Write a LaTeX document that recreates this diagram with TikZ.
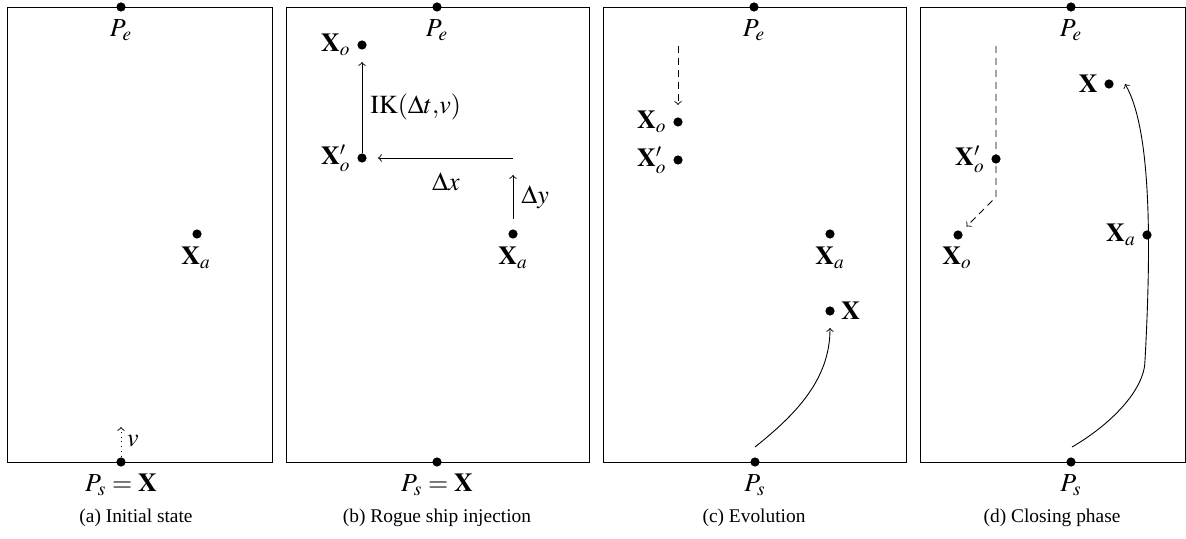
\documentclass[tikz,border=0pt]{standalone}
\usepackage{mathptmx}
\usepackage[no-math]{fontspec}
\setmainfont{Liberation Serif}
\usetikzlibrary{positioning}
\newcommand{\lblfont}{\fontsize{13}{15}\selectfont}
\newcommand{\capfont}{\fontsize{9.7}{12}\selectfont}
\tikzset{
  frame/.style={draw=black, line width=0.45pt},
  dot/.style={circle, fill=black, inner sep=0pt, minimum size=4.6pt},
  lbl/.style={inner sep=0pt, font=\lblfont},
  captext/.style={inner sep=0pt, font=\capfont},
  conn/.style={line width=0.45pt},
  dashline/.style={conn, dash pattern=on 3.5pt off 2.5pt},
}
\begin{document}
\begin{tikzpicture}[x=0.5pt, y=-0.5pt]
\useasboundingbox (0,0) rectangle (1186,539);

% ---------- (a) ----------
\draw[frame] (7,7) rectangle (272,462);
\node[dot] (aPe) at (121,7) {};
\node[lbl] (aPeL) at (121,30) {$P_e$};
\node[dot] (aXa) at (197,234) {};
\node[lbl] (aXaL) at (196,258) {$\mathbf{X}_a$};
\node[dot] (aPs) at (121,462) {};
\coordinate (aV) at (121,427);
\draw[conn, dotted, ->] (aPs) -- (aV);
\node[lbl] (aVL) at (133,441) {$v$};
\node[lbl] (aPsL) at (121,485) {$P_s = \mathbf{X}$};
\node[captext] (aCap) at (136,518) {(a) Initial state};

% ---------- (b) ----------
\draw[frame] (286,7) rectangle (589,462);
\node[dot] (bPe) at (437,7) {};
\node[lbl] (bPeL) at (437,30) {$P_e$};
\node[dot] (bXo) at (362,45) {};
\node[lbl, left=3pt of bXo] (bXoL) {$\mathbf{X}_o$};
\node[dot] (bXop) at (362,158) {};
\node[lbl, left=3pt of bXop] (bXopL) {$\mathbf{X}'_o$};
\draw[conn, ->, shorten >=6pt] (bXop) -- (bXo);
\node[lbl, anchor=west] (bIK) at (370,107) {$\mathrm{IK}(\Delta t{,}v)$};
\coordinate (bH) at (513,158);
\draw[conn, ->, shorten >=5.5pt] (bH) -- (bXop);
\node[lbl] (bDx) at (446,182) {$\Delta x$};
\node[dot] (bXa) at (513,234) {};
\coordinate (bDyT) at (513,175);
\draw[conn, ->, shorten <=5pt] (bXa) -- (bDyT);
\node[lbl, anchor=west] (bDy) at (521,197) {$\Delta y$};
\node[lbl] (bXaL) at (513,258) {$\mathbf{X}_a$};
\node[dot] (bPs) at (437,462) {};
\node[lbl] (bPsL) at (437,485) {$P_s = \mathbf{X}$};
\node[captext] (bCap) at (437,518) {(b) Rogue ship injection};

% ---------- (c) ----------
\draw[frame] (603,7) rectangle (906,462);
\node[dot] (cPe) at (754,7) {};
\node[lbl] (cPeL) at (754,30) {$P_e$};
\coordinate (cTop) at (678,46);
\node[dot] (cXo) at (678,122) {};
\node[lbl, left=3pt of cXo] (cXoL) {$\mathbf{X}_o$};
\draw[dashline, ->, shorten >=6pt] (cTop) -- (cXo);
\node[dot] (cXop) at (678,160) {};
\node[lbl, left=3pt of cXop] (cXopL) {$\mathbf{X}'_o$};
\node[dot] (cXa) at (830,234) {};
\node[lbl] (cXaL) at (830,258) {$\mathbf{X}_a$};
\node[dot] (cX) at (830,311) {};
\node[lbl, right=3pt of cX] (cXL) {$\mathbf{X}$};
\coordinate (cS) at (755,447);
\draw[conn, ->, shorten >=6pt] (cS) .. controls (795,415) and (830,380) .. (cX);
\node[dot] (cPs) at (755,462) {};
\node[lbl] (cPsL) at (755,485) {$P_s$};
\node[captext] (cCap) at (754,518) {(c) Evolution};

% ---------- (d) ----------
\draw[frame] (920,7) rectangle (1185,462);
\node[dot] (dPe) at (1071,7) {};
\node[lbl] (dPeL) at (1071,30) {$P_e$};
\node[dot] (dX) at (1109,84) {};
\node[lbl, left=3pt of dX] (dXL) {$\mathbf{X}$};
\coordinate (dTop) at (996,46);
\coordinate (dCorner) at (996,197);
\node[dot] (dXo) at (958,235) {};
\draw[dashline, ->, shorten >=3.5pt] (dTop) -- (dCorner) -- (dXo);
\node[dot] (dXop) at (996,159) {};
\node[lbl, left=3pt of dXop] (dXopL) {$\mathbf{X}'_o$};
\node[lbl] (dXoL) at (957,258) {$\mathbf{X}_o$};
\node[dot] (dXa) at (1147,235) {};
\node[lbl, left=3pt of dXa] (dXaL) {$\mathbf{X}_a$};
\coordinate (dS) at (1072,447);
\coordinate (dK) at (1145,360);
\coordinate (dXt) at (1125,84);
\draw[conn, ->] (dS) .. controls (1110,425) and (1145,390) .. (dK)
  .. controls (1151,250) and (1152,130) .. (dXt);
\node[dot] (dPs) at (1071,462) {};
\node[lbl] (dPsL) at (1071,485) {$P_s$};
\node[captext] (dCap) at (1052,518) {(d) Closing phase};
\end{tikzpicture}
\end{document}
